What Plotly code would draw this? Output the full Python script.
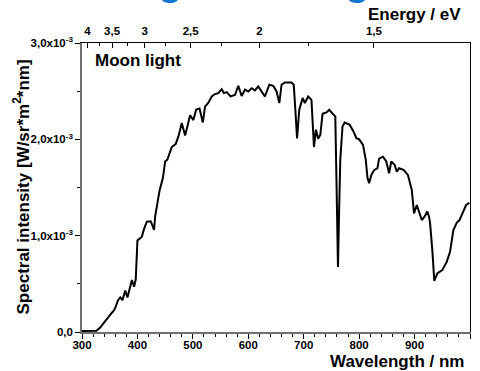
import numpy as np
import plotly.graph_objects as go

# ---- data ----
wavelength_nm = [300, 310, 320, 326, 332, 338, 345, 350, 354, 357, 360, 365, 369, 373, 378, 382, 386, 390, 394, 397,
                 400, 404, 408, 412, 417, 424, 430, 432, 435, 440, 446, 450, 454, 458, 462, 469, 474, 480, 486, 490,
                 495, 501, 506, 512, 518, 522, 528, 534, 540, 546, 552, 556, 561, 568, 576, 582, 588, 594, 600, 606,
                 612, 618, 624, 630, 638, 645, 651, 656, 660, 666, 678, 682, 685, 688, 692, 698, 702, 708, 714, 716,
                 718.5, 722, 726, 730, 734, 741, 746, 753, 757, 759, 761.8, 764, 766, 770, 774, 783, 790, 795, 800, 807,
                 812, 815, 818, 822, 827, 833, 836, 843, 849, 854, 858, 864, 868, 872, 880, 888, 892, 895, 899, 904,
                 908, 913, 918, 923, 926, 928, 932, 935.6, 941, 950, 958, 964, 970, 976, 981, 987, 993, 999]
intensity_1e3 = [0.01, 0.01, 0.01, 0.012, 0.04, 0.087, 0.14, 0.17, 0.2, 0.22, 0.25, 0.33, 0.36, 0.33, 0.43, 0.358, 0.45, 0.54, 0.47, 0.55,
                 0.95, 0.97, 0.99, 1.07, 1.145, 1.15, 1.06, 1.2, 1.31, 1.47, 1.6, 1.77, 1.79, 1.85, 1.92, 1.95, 2.03, 2.17, 2.04, 2.13,
                 2.25, 2.2, 2.31, 2.32, 2.175, 2.34, 2.38, 2.445, 2.47, 2.48, 2.52, 2.48, 2.49, 2.445, 2.46, 2.556, 2.45, 2.515, 2.497, 2.53,
                 2.508, 2.55, 2.5, 2.445, 2.567, 2.556, 2.497, 2.377, 2.567, 2.59, 2.59, 2.567, 2.3, 2.01, 2.307, 2.43, 2.377, 2.445, 2.41, 2.2,
                 1.92, 2.1, 2.005, 2.047, 2.265, 2.28, 2.307, 2.262, 2.237, 1.6, 0.676, 1.3, 1.79, 2.133, 2.175, 2.15, 2.08, 2.012, 2.0, 1.943,
                 1.787, 1.6, 1.544, 1.63, 1.68, 1.7, 1.8, 1.82, 1.77, 1.648, 1.77, 1.735, 1.665, 1.7, 1.683, 1.631, 1.55, 1.474, 1.232, 1.318,
                 1.25, 1.162, 1.197, 1.25, 1.2, 1.128, 0.85, 0.531, 0.608, 0.642, 0.728, 0.832, 1.058, 1.134, 1.162, 1.25, 1.318, 1.342]

x_ticks = [300, 400, 500, 600, 700, 800, 900, 1000]
y_ticks = [0.0, 1.0e-3, 2.0e-3, 3.0e-3]
y_ticklabels = ["0,0", "1,0x10<sup>-3</sup>", "2,0x10<sup>-3</sup>", "3,0x10<sup>-3</sup>"]
y_minor = [0.5e-3, 1.5e-3, 2.5e-3]
energy_major_eV = [4, 3.5, 3, 2.5, 2, 1.5]
energy_labels = ["4", "3,5", "3", "2,5", "2", "1,5"]
energy_minor_eV = [3.75, 3.25, 2.75, 2.25, 1.75]
HC = 1240.0  # eV*nm

intensity = np.array(intensity_1e3) * 1e-3

FONT = "Arial, 'Liberation Sans', sans-serif"
tickfont = dict(family=FONT, size=11.5, color="black", weight="bold")

fig = go.Figure()
fig.add_trace(go.Scatter(x=wavelength_nm, y=intensity, mode="lines",
                         line=dict(color="black", width=2), showlegend=False, hoverinfo="skip"))
fig.add_trace(go.Scatter(x=[300, 1000], y=[0, 3e-3], xaxis="x2", yaxis="y2", mode="markers",
                         marker=dict(opacity=0), showlegend=False, hoverinfo="skip"))

fig.update_layout(
    width=480, height=371,
    margin=dict(l=82, r=10, t=43, b=39),
    paper_bgcolor="white", plot_bgcolor="white",
    font=dict(family=FONT, color="black"),
    xaxis=dict(range=[300, 1000], tickmode="array", tickvals=x_ticks,
               ticks="outside", ticklen=5, tickwidth=1, tickcolor="black",
               minor=dict(dtick=20, tick0=300, ticks="outside", ticklen=3, tickcolor="black", tickwidth=1),
               showline=True, linecolor="#707070", linewidth=1.5, ticklabelstandoff=-4,
               showgrid=False, zeroline=False, tickfont=tickfont),
    yaxis=dict(range=[0, 3e-3], tickmode="array", tickvals=y_ticks, ticktext=y_ticklabels,
               ticks="outside", ticklen=5, tickwidth=1, tickcolor="black",
               minor=dict(tickmode="array", tickvals=y_minor, ticks="outside", ticklen=3, tickcolor="black", tickwidth=1),
               showline=True, linecolor="#707070", linewidth=1.5,
               showgrid=False, zeroline=False, tickfont=tickfont),
    xaxis2=dict(overlaying="x", side="top", range=[300, 1000], tickmode="array",
                tickvals=[HC / e for e in energy_major_eV], ticktext=energy_labels,
                ticks="inside", ticklen=5, tickwidth=1, tickcolor="black",
                minor=dict(tickmode="array", tickvals=[HC / e for e in energy_minor_eV],
                           ticks="inside", ticklen=3, tickcolor="black", tickwidth=1),
                showline=True, linecolor="black", linewidth=1, ticklabelstandoff=2,
                showgrid=False, zeroline=False, tickfont=tickfont),
    yaxis2=dict(overlaying="y", side="right", range=[0, 3e-3], showticklabels=False, ticks="",
                showline=True, linecolor="black", linewidth=1, showgrid=False, zeroline=False),
)

big = dict(family=FONT, size=17, color="black", weight="bold")
fig.add_annotation(text="Spectral intensity [W/sr*m<sup>2</sup>*nm]", textangle=-90,
                   xref="paper", yref="paper", x=(21 - 82) / 388, y=0.5,
                   xanchor="center", yanchor="middle", showarrow=False, font=big)
fig.add_annotation(text="Wavelength / nm", xref="paper", yref="paper",
                   x=(466 - 82) / 388, y=(332 - 361) / 289, xanchor="right", yanchor="middle",
                   showarrow=False, font=big)
fig.add_annotation(text="Energy / eV", xref="paper", yref="paper",
                   x=(463 - 82) / 388, y=(332 - 14) / 289, xanchor="right", yanchor="middle",
                   showarrow=False, font=big)
fig.add_annotation(text="Moon light", xref="paper", yref="paper",
                   x=(93 - 82) / 388, y=(332 - 61) / 289, xanchor="left", yanchor="middle",
                   showarrow=False, font=big)
# cropped blue heading (only descenders visible)
for gx in (170, 357):
    fig.add_annotation(text="g", xref="paper", yref="paper",
                       x=(gx - 82) / 388, y=(332 - 4) / 289, xanchor="center", yanchor="bottom",
                       borderpad=0, showarrow=False,
                       font=dict(family=FONT, size=40, color="#1277cf", weight="bold"))

fig.write_html("out.html")
